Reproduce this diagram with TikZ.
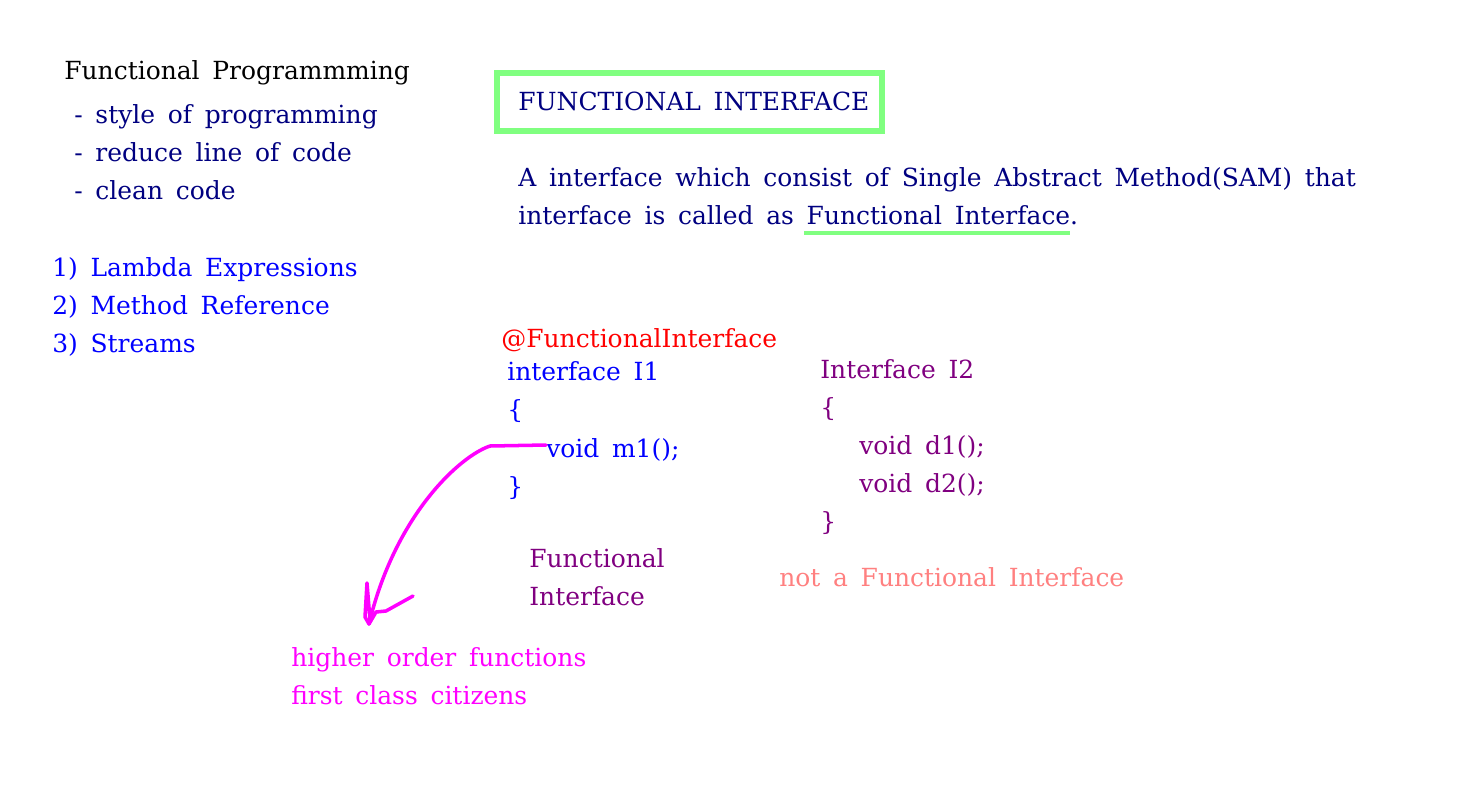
\documentclass[tikz,border=0pt]{standalone}
\usepackage{fontspec}
\setmainfont[WordSpace=1.6]{DejaVu Serif}
\usetikzlibrary{calc,positioning}

\definecolor{navy}{RGB}{0,0,128}
\definecolor{pblue}{RGB}{0,0,255}
\definecolor{ppurple}{RGB}{128,0,128}
\definecolor{pred}{RGB}{255,0,0}
\definecolor{psalmon}{RGB}{255,128,128}
\definecolor{pmagenta}{RGB}{255,0,255}
\definecolor{pgreen}{RGB}{128,255,128}

\tikzset{
  txt/.style={anchor=base west, inner sep=0pt, align=left,
    font=\fontsize{14.2}{21.6}\selectfont},
  pen/.style={pmagenta, line width=2pt, line cap=round, line join=round}
}

\begin{document}
\begin{tikzpicture}[x=0.02cm,y=-0.02cm]
\useasboundingbox (0,0) rectangle (1481,795);
% left column (base = last line)
\node[txt] (fp) at (64,79) {Functional Programmming};
\node[txt, navy] (fplist) at (74,199) {- style of programming\\- reduce line of code\\- clean code};
\node[txt, pblue] (feat) at (52,352) {1) Lambda Expressions\\2) Method Reference\\3) Streams};
% title box
\node[txt, navy] (title) at (518,110) {FUNCTIONAL INTERFACE};
\draw[pgreen, line width=3pt] (497,73) rectangle (882,131);
\node[txt, navy] (def) at (518,224) {A interface which consist of Single Abstract Method(SAM) that\\interface is called as Functional Interface.};
\draw[pgreen, line width=2.2pt] (804,233) -- (1070,233);
% interface I1
\node[txt, pred] (anno) at (501,347) {@FunctionalInterface};
\node[txt, pblue] (i1) at (507,418) {interface I1\\\{};
\node[txt, pblue] (m1) at (546,457) {void m1();};
\node[txt, pblue] (i1end) at (507,495) {\}};
\node[txt, ppurple] (fi) at (529,605) {Functional\\Interface};
% interface I2
\node[txt, ppurple] (i2) at (820,530) {Interface I2\\\{\\\hspace*{0.78cm}void d1();\\\hspace*{0.78cm}void d2();\\\}};
\node[txt, psalmon] (notfi) at (779,586) {not a Functional Interface};
% higher order
\node[txt, pmagenta] (hof) at (291,704) {higher order functions\\first class citizens};
% hand drawn arrow
\coordinate (tip) at (369,624);
\draw[pen] (m1.west |- 0,445) -- (490,446) .. controls (460,456) and (395,515) .. (tip);
\draw[pen] (tip) -- (365,617) -- (367,583) -- (370,620);
\draw[pen] (tip) -- (376,612) -- (386,611) -- (413,596);
\end{tikzpicture}
\end{document}
